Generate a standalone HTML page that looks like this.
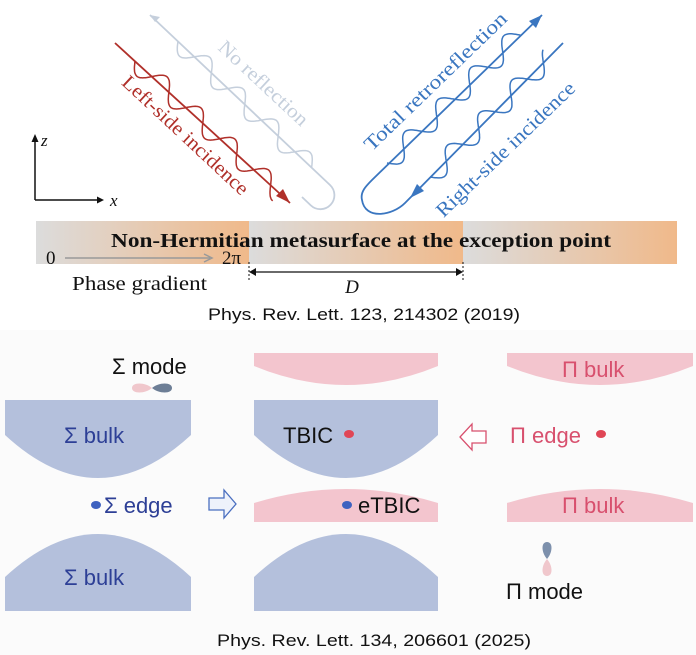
<!DOCTYPE html>
<html><head><meta charset="utf-8"><style>
html,body{margin:0;padding:0;background:#fff;}
svg{display:block;}
.serif{font-family:"Liberation Serif",serif;}
.sans{font-family:"Liberation Sans",sans-serif;}
</style></head><body>
<svg id="s" width="696" height="655" viewBox="0 0 696 655" xmlns="http://www.w3.org/2000/svg">
<defs>
<linearGradient id="g1" x1="0" x2="1" y1="0" y2="0">
<stop offset="0" stop-color="#dcdcdc"/><stop offset="1" stop-color="#f0b98a"/>
</linearGradient>
</defs>
<rect x="0" y="330" width="696" height="325" fill="#fbfbfb"/>
<!-- bar -->
<rect x="36" y="221" width="213" height="43" fill="url(#g1)"/>
<rect x="249" y="221" width="214" height="43" fill="url(#g1)"/>
<rect x="463" y="221" width="214" height="43" fill="url(#g1)"/>
<text x="111" y="247" class="serif" font-weight="bold" font-size="20" textLength="500" lengthAdjust="spacingAndGlyphs" fill="#111">Non-Hermitian metasurface at the exception point</text>
<text x="46" y="264" class="serif" font-size="19" fill="#111">0</text>
<line x1="65" y1="258" x2="210" y2="258" stroke="#999" stroke-width="1.5"/>
<path d="M204,254 L212,258 L204,262" fill="none" stroke="#999" stroke-width="1.5"/>
<text x="222" y="264" class="serif" font-size="19" fill="#111">2π</text>
<line x1="249" y1="262" x2="249" y2="280" stroke="#111" stroke-dasharray="2,2"/>
<line x1="463" y1="262" x2="463" y2="280" stroke="#111" stroke-dasharray="2,2"/>
<line x1="252" y1="272" x2="460" y2="272" stroke="#111" stroke-width="1.3"/>
<path d="M256,268 L249,272 L256,276 z M456,268 L463,272 L456,276 z" fill="#111"/>
<text x="352" y="293" class="serif" font-style="italic" font-size="19" text-anchor="middle" fill="#111">D</text>
<text x="72" y="290" class="serif" font-size="20" textLength="135" lengthAdjust="spacingAndGlyphs" fill="#111">Phase gradient</text>
<text x="208" y="320" class="sans" font-size="17" textLength="312" lengthAdjust="spacingAndGlyphs" fill="#111">Phys. Rev. Lett. 123, 214302 (2019)</text>
<!-- axes -->
<path d="M35,200 V140 M35,200 H98" stroke="#111" stroke-width="1.5" fill="none"/>
<path d="M31.5,142 L35,134 L38.5,142 z M97,196.5 L104,200 L97,203.5 z" fill="#111"/>
<text x="41" y="146" class="serif" font-style="italic" font-size="17" fill="#111">z</text>
<text x="110" y="206" class="serif" font-style="italic" font-size="17" fill="#111">x</text>
<!-- lines -->
<path d="M150,15 L330,185 A14,14 0 0 1 310.8,205.4 L302,197" fill="none" stroke="#c5cfdc" stroke-width="1.8"/>
<path d="M150,15 l10,2 l-5,5 z" fill="#c5cfdc"/>
<line x1="115" y1="43" x2="290" y2="203" stroke="#b0302a" stroke-width="1.8"/>
<path d="M290,203 L276,196 L283,189 z" fill="#b0302a"/>
<path d="M563,43 L405,203 C392,216 365,220 362,200 C360,192 366,186 372,180 L542,15" fill="none" stroke="#3a76c0" stroke-width="1.8"/>
<path d="M542,15 L529,21 L536,28 z" fill="#3a76c0"/>
<path d="M410,198 L424,191 L417,184 z" fill="#3a76c0"/>
<g id="waves" fill="none" stroke-width="1.5"></g>
<text class="serif" font-size="20" fill="#b0302a" text-anchor="middle" textLength="165" lengthAdjust="spacingAndGlyphs" transform="translate(181,140) rotate(43)">Left-side incidence</text>
<text class="serif" font-size="20" fill="#c5cfdc" text-anchor="middle" textLength="115" lengthAdjust="spacingAndGlyphs" transform="translate(259,88) rotate(43)">No reflection</text>
<text class="serif" font-size="20" fill="#3a76c0" text-anchor="middle" textLength="190" lengthAdjust="spacingAndGlyphs" transform="translate(440,86) rotate(-44)">Total retroreflection</text>
<text class="serif" font-size="20" fill="#3a76c0" text-anchor="middle" textLength="185" lengthAdjust="spacingAndGlyphs" transform="translate(510,154) rotate(-44)">Right-side incidence</text>
<!-- bottom -->
<g fill="#b4c0dc">
<path d="M5,400 H191 V435 Q98,521 5,435 Z"/>
<path d="M254,400 H438 V435 Q346,521 254,435 Z"/>
<path d="M5,611 V577 Q98,491 191,577 V611 Z"/>
<path d="M254,611 V577 Q346,491 438,577 V611 Z"/>
</g>
<g fill="#f3c5ce">
<path d="M254,353 H438 V366 Q346,404 254,366 Z"/>
<path d="M507,353 H693 V366 Q600,404 507,366 Z"/>
<path d="M254,522 V503 Q346,475 438,503 V522 Z"/>
<path d="M507,522 V503 Q600,475 693,503 V522 Z"/>
</g>
<g class="sans" font-size="22" xml:space="preserve">
<text x="112" y="374" fill="#111">Σ mode</text>
<text x="64" y="443" fill="#2d3f96">Σ bulk</text>
<text x="64" y="585" fill="#2d3f96">Σ bulk</text>
<text x="104" y="513" fill="#2d3f96">Σ edge</text>
<text x="283" y="443" fill="#111">TBIC</text>
<text x="358" y="513" fill="#111">eTBIC</text>
<text x="562" y="377" fill="#d8506e">Π  bulk</text>
<text x="562" y="513" fill="#d8506e">Π  bulk</text>
<text x="510" y="443" fill="#d8506e">Π edge</text>
<text x="506" y="599" fill="#111">Π mode</text>
</g>
<ellipse cx="96" cy="505" rx="5" ry="4" fill="#3e62c0"/>
<ellipse cx="347" cy="505" rx="5" ry="4" fill="#3e62c0"/>
<ellipse cx="349" cy="434" rx="5" ry="4" fill="#e04656"/>
<ellipse cx="601" cy="434" rx="5" ry="4" fill="#e04656"/>
<!-- hollow arrows -->
<path d="M209,498 H224 V490 L236,504 L224,518 V510 H209 Z" fill="#eef2fb" stroke="#4a6fc0" stroke-width="1.3"/>
<path d="M486,431 H472 V424 L460,437 L472,450 V443 H486 Z" fill="#fff" stroke="#d8506e" stroke-width="1.3"/>
<!-- orbitals -->
<path d="M152,388 C145,382 132,382 132,388 C132,394 145,394 152,388 Z" fill="#f0c7cc"/>
<path d="M152,388 C159,382 172,382 172,388 C172,394 159,394 152,388 Z" fill="#6d7e96"/>
<path d="M547,559 C541,552 541,542 547,542 C553,542 553,552 547,559 Z" fill="#7d90ac"/>
<path d="M547,559 C541,566 541,576 547,576 C553,576 553,566 547,559 Z" fill="#f0c7cc"/>
<text x="217" y="646" class="sans" font-size="17" textLength="314" lengthAdjust="spacingAndGlyphs" fill="#111">Phys. Rev. Lett. 134, 206601 (2025)</text>
</svg>
<script>
(function(){
var g=document.getElementById('waves');
function wave(x0,y0,x1,y1,A,lam,col){
 var dx=x1-x0,dy=y1-y0,L=Math.sqrt(dx*dx+dy*dy),ux=dx/L,uy=dy/L,px=-uy,py=ux;
 var d='';for(var s=0;s<=L;s+=1){var o=A*Math.sin(2*Math.PI*s/lam);var x=x0+ux*s+px*o,y=y0+uy*s+py*o;d+=(s?'L':'M')+x.toFixed(1)+','+y.toFixed(1);}
 var p=document.createElementNS('http://www.w3.org/2000/svg','path');p.setAttribute('d',d);p.setAttribute('stroke',col);g.appendChild(p);
}
wave(135,61,280,194,10,46,'#b0302a');
wave(178,41,312,168,10,46,'#c5cfdc');
wave(387,163,520,34,10,46,'#3a76c0');
wave(430,177,550,56,10,46,'#3a76c0');
})();
</script>
</body></html>
